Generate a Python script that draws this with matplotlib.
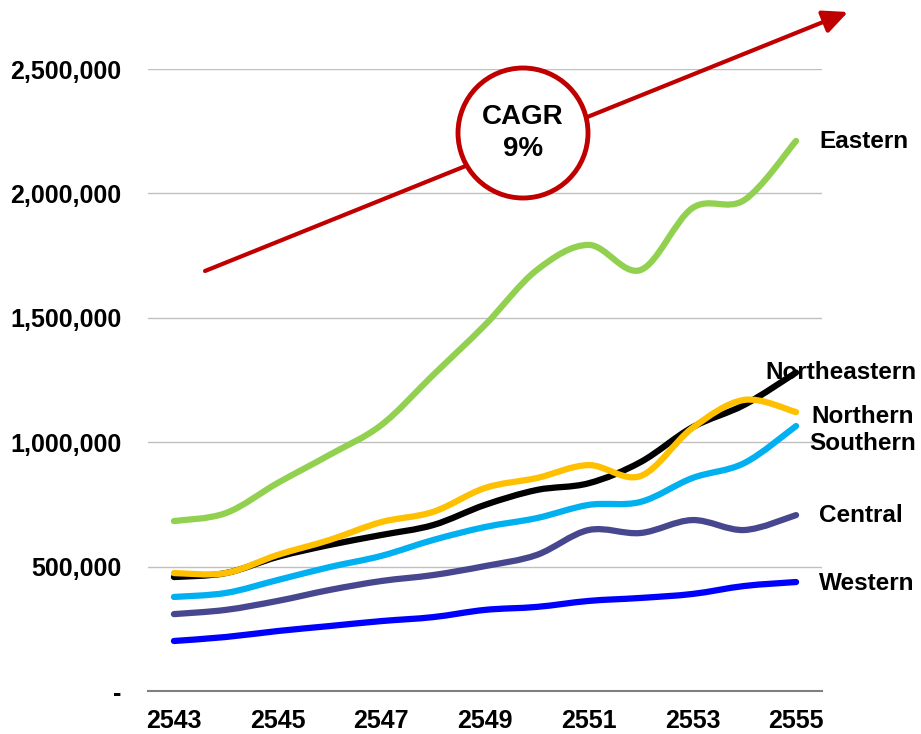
import matplotlib
matplotlib.use('Agg')
import matplotlib.pyplot as plt
from matplotlib.path import Path
from matplotlib.patches import PathPatch, Circle
from matplotlib.ticker import FuncFormatter
from matplotlib.transforms import blended_transform_factory

plt.rcParams['font.family'] = ['Liberation Sans', 'DejaVu Sans']
plt.rcParams['font.weight'] = 'bold'

years = list(range(2543, 2556))
eastern = [683000, 715000, 836000, 949000, 1069000, 1270000, 1471000, 1692000, 1793000, 1692000, 1941000, 1973000, 2211000]
northeastern = [458000, 474000, 539000, 587000, 627000, 667000, 748000, 808000, 835000, 920000, 1060000, 1150000, 1280000]
northern = [474000, 474000, 547000, 607000, 679000, 720000, 816000, 856000, 908000, 864000, 1057000, 1170000, 1121000]
southern = [378000, 394000, 446000, 498000, 543000, 607000, 659000, 695000, 748000, 760000, 856000, 916000, 1065000]
central = [309000, 326000, 362000, 406000, 442000, 466000, 502000, 547000, 647000, 635000, 687000, 647000, 707000]
western = [201000, 217000, 241000, 261000, 281000, 297000, 326000, 338000, 362000, 374000, 390000, 422000, 438000]

# name, values, colour, label y (pixels from top), label x (data)
series = [
    ('Eastern', eastern, '#92D050', 141, 2555.45),
    ('Northeastern', northeastern, '#000000', 372, 2554.4),
    ('Northern', northern, '#FFC000', 416, 2555.3),
    ('Southern', southern, '#00B0F0', 443, 2555.25),
    ('Central', central, '#47478F', 515, 2555.45),
    ('Western', western, '#0000FF', 583, 2555.45),
]


def smooth_path(xs, ys):
    # catmull-rom style bezier, like excel "smoothed line"
    pts = list(zip(xs, ys))
    verts = [pts[0]]
    codes = [Path.MOVETO]
    n = len(pts)
    for i in range(n - 1):
        p0 = pts[max(i - 1, 0)]
        p1 = pts[i]
        p2 = pts[i + 1]
        p3 = pts[min(i + 2, n - 1)]
        c1 = (p1[0] + (p2[0] - p0[0]) / 6, p1[1] + (p2[1] - p0[1]) / 6)
        c2 = (p2[0] - (p3[0] - p1[0]) / 6, p2[1] - (p3[1] - p1[1]) / 6)
        verts += [c1, c2, p2]
        codes += [Path.CURVE4] * 3
    return Path(verts, codes)


fig = plt.figure(figsize=(9.21, 7.34), dpi=100)
ax = fig.add_axes([148 / 921, 43 / 734, 674 / 921, 622 / 734])
trans = blended_transform_factory(ax.transData, fig.transFigure)

for name, vals, col, ypx, xlab in series:
    patch = PathPatch(smooth_path(years, vals), facecolor='none', edgecolor=col,
                      lw=4.5, capstyle='round', joinstyle='round', zorder=3)
    ax.add_patch(patch)
    ax.text(xlab, 1 - ypx / 734, name, fontsize=17.5, fontweight='bold', ha='left',
            va='center', clip_on=False, transform=trans)

ax.set_xlim(2542.5, 2555.5)
ax.set_ylim(0, 2500000)
ax.set_xticks(years[::2])
ax.set_yticks([0, 500000, 1000000, 1500000, 2000000, 2500000])
ax.yaxis.set_major_formatter(FuncFormatter(lambda v, p: '-' if v == 0 else f'{int(v):,}'))
ax.grid(axis='y', color='#C0C0C0', lw=1)
ax.set_axisbelow(True)
for s in ['top', 'right', 'left']:
    ax.spines[s].set_visible(False)
ax.spines['bottom'].set_color('#808080')
ax.spines['bottom'].set_linewidth(1.5)
ax.tick_params(length=0, labelsize=18)
ax.tick_params(axis='y', pad=19)
ax.tick_params(axis='x', pad=13)

# CAGR arrow and circle
ax.annotate('', xy=(848 / 921, 1 - 12 / 734), xytext=(205 / 921, 1 - 271 / 734),
            xycoords='figure fraction', textcoords='figure fraction',
            arrowprops=dict(arrowstyle='-|>,head_length=0.75,head_width=0.35', lw=3,
                            color='#C00000', shrinkA=0, shrinkB=0, mutation_scale=20),
            zorder=5)
circ = Circle((5.23, 6.01), 0.65, transform=fig.dpi_scale_trans, facecolor='white',
              edgecolor='#C00000', lw=3.5, zorder=6, clip_on=False)
fig.patches.append(circ)
fig.text(523 / 921, 1 - 133 / 734, 'CAGR\n9%', fontsize=20, fontweight='bold',
         ha='center', va='center', linespacing=1.35, zorder=7)

fig.savefig('out.png', dpi=100)
